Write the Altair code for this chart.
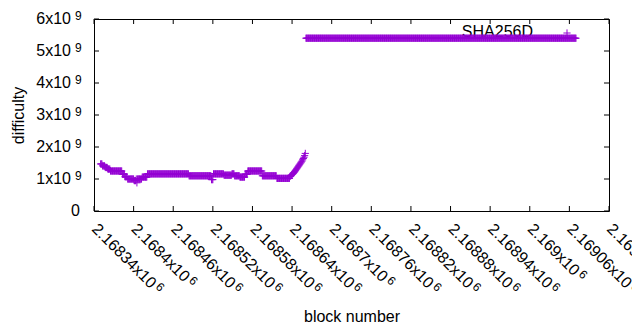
import json
import altair as alt
import pandas as pd

PURPLE = "#9400D3"
FONT = "Liberation Sans"

# ---- data -----------------------------------------------------------------
# flat runs of difficulty: first block, last block, difficulty (x1e9)
run_first = [2168350, 2168353, 2168357, 2168361, 2168365, 2168383, 2168387,
             2168391, 2168401, 2168404, 2168405, 2168406, 2168413, 2168421,
             2168484, 2168518, 2168521, 2168537, 2168549, 2168553, 2168561,
             2168569, 2168573, 2168595, 2168617, 2168661]
run_last = [2168352, 2168356, 2168360, 2168364, 2168382, 2168386, 2168390,
            2168400, 2168403, 2168404, 2168405, 2168412, 2168420, 2168483,
            2168517, 2168520, 2168536, 2168548, 2168552, 2168560, 2168568,
            2168572, 2168594, 2168616, 2168636, 2169070]
run_value = [1.47, 1.41, 1.36, 1.31, 1.25, 1.15, 1.07,
             1.00, 0.95, 1.00, 0.88, 1.00, 1.06, 1.16,
             1.10, 0.98, 1.16, 1.12, 1.16, 1.10, 1.06,
             1.15, 1.25, 1.10, 1.02, 5.40]

# the rise just before the jump
ramp_block = [2168637, 2168638, 2168639, 2168640, 2168641, 2168642, 2168643,
              2168644, 2168645, 2168646, 2168647, 2168648, 2168649, 2168650,
              2168651, 2168652, 2168653, 2168654, 2168655, 2168656, 2168657,
              2168658, 2168659, 2168660]
ramp_value = [1.08, 1.10, 1.12, 1.14, 1.16, 1.18, 1.20, 1.23, 1.26, 1.29,
              1.32, 1.35, 1.38, 1.41, 1.44, 1.47, 1.50, 1.53, 1.56, 1.60,
              1.64, 1.68, 1.73, 1.80]

x_ticks = [2168340, 2168400, 2168460, 2168520, 2168580, 2168640, 2168700,
           2168760, 2168820, 2168880, 2168940, 2169000, 2169060, 2169120]
x_mant = ["2.16834", "2.1684", "2.16846", "2.16852", "2.16858", "2.16864",
          "2.1687", "2.16876", "2.16882", "2.16888", "2.16894", "2.169",
          "2.16906", "2.16912"]
x_exp = "6"
y_ticks = [0, 1000000000, 2000000000, 3000000000, 4000000000, 5000000000,
           6000000000]
y_mant = ["0", "1x10", "2x10", "3x10", "4x10", "5x10", "6x10"]
y_exp = ["", "9", "9", "9", "9", "9", "9"]

series_name = "SHA256D"

# ---- build tables -----------------------------------------------------------
blocks, diffs = [], []
for a, b, v in zip(run_first, run_last, run_value):
    for blk in range(a, b + 1):
        blocks.append(blk)
        diffs.append(v * 1e9)
for blk, v in zip(ramp_block, ramp_value):
    blocks.append(blk)
    diffs.append(v * 1e9)
df = pd.DataFrame({"block": blocks, "difficulty": diffs})

W, H = 515, 192
TICK = 5
FS = 16       # main font size
FS_SUP = 12   # superscript font size

xscale = alt.Scale(domain=[x_ticks[0], x_ticks[-1]], nice=False, zero=False)
yscale = alt.Scale(domain=[y_ticks[0], y_ticks[-1]], nice=False, zero=False)

x_main = [m + "x10" for m in x_mant]
x_expr = "%s[indexof(%s, datum.value)]" % (json.dumps(x_main), json.dumps(x_ticks))

XPAD = 15
x_axis = alt.Axis(values=x_ticks, labelExpr=x_expr, labelAngle=45,
                  labelAlign="left", labelBaseline="middle",
                  labelPadding=XPAD, labelOverlap=False, labelFlush=False,
                  labelBound=False, titleX=W / 2, titleY=105,
                  titleBaseline="middle", titleAlign="center")
y_axis = alt.Axis(values=y_ticks, labels=False,
                  titleX=-76, titleY=H / 2, titleAngle=-90,
                  titleBaseline="middle", titleAlign="center")


def xenc(field):
    return alt.X(field + ":Q", scale=xscale, title="block number", axis=x_axis)


def yenc(field):
    return alt.Y(field + ":Q", scale=yscale, title="difficulty", axis=y_axis)


cross = "M-1,0H1M0,-1V1"
MSIZE = 52

points = alt.Chart(df).mark_point(
    shape=cross, filled=False, size=MSIZE, strokeWidth=1, color=PURPLE, opacity=1
).encode(x=xenc("block"), y=yenc("difficulty"))

xt = pd.DataFrame({"t": x_ticks, "mant": x_mant, "exp": [x_exp] * len(x_ticks)})
yt = pd.DataFrame({"t": y_ticks, "mant": y_mant, "exp": y_exp})
rule_style = dict(color="black", strokeWidth=1)
xb = alt.Chart(xt).mark_rule(**rule_style).encode(
    x=xenc("t"), y=alt.value(H), y2=alt.value(H - TICK))
xtop = alt.Chart(xt).mark_rule(**rule_style).encode(
    x=xenc("t"), y=alt.value(0), y2=alt.value(TICK))
yl = alt.Chart(yt).mark_rule(**rule_style).encode(
    y=yenc("t"), x=alt.value(0), x2=alt.value(TICK))
yr = alt.Chart(yt).mark_rule(**rule_style).encode(
    y=yenc("t"), x=alt.value(W), x2=alt.value(W - TICK))

# y tick labels: mantissa + superscript exponent
y_lab0 = alt.Chart(yt).transform_filter("datum.exp == ''").mark_text(
    align="right", baseline="middle", font=FONT, fontSize=FS, color="black"
).encode(y=yenc("t"), text="mant:N", x=alt.value(-14))
y_lab = alt.Chart(yt).transform_filter("datum.exp != ''").mark_text(
    align="right", baseline="middle", font=FONT, fontSize=FS, color="black"
).encode(y=yenc("t"), text="mant:N", x=alt.value(-23))
y_sup = alt.Chart(yt).transform_filter("datum.exp != ''").mark_text(
    align="left", baseline="alphabetic", font=FONT, fontSize=FS_SUP, color="black",
    dy=0.5
).encode(y=yenc("t"), text="exp:N", x=alt.value(-19))

# x superscripts, offset along the rotated label by the mantissa's width
ADV = {"0": 0.556, "1": 0.556, "2": 0.556, "3": 0.556, "4": 0.556, "5": 0.556,
       "6": 0.556, "7": 0.556, "8": 0.556, "9": 0.556, ".": 0.278, "x": 0.5}
x_sup_layers = []
for n in sorted(set(len(m) for m in x_mant)):
    sample = [m for m in x_mant if len(m) == n][0] + "x10"
    w = sum(ADV[c] for c in sample) * FS
    x_sup_layers.append(
        alt.Chart(xt).transform_filter("length(datum.mant) == %d" % n).mark_text(
            align="left", baseline="alphabetic", font=FONT, fontSize=FS_SUP,
            color="black", angle=45, dx=w + 3, dy=0.5
        ).encode(x=xenc("t"), y=alt.value(H + XPAD), text="exp:N")
    )

leg_df = pd.DataFrame({"name": [series_name]})
leg_text = alt.Chart(leg_df).mark_text(
    align="right", baseline="middle", font=FONT, fontSize=FS, color="black"
).encode(text="name:N", x=alt.value(439), y=alt.value(13))
leg_pt = alt.Chart(leg_df).mark_point(
    shape=cross, filled=False, size=MSIZE, strokeWidth=1, color=PURPLE, opacity=1
).encode(x=alt.value(473), y=alt.value(14))

chart = alt.layer(leg_text, points, leg_pt, xb, xtop, yl, yr,
                  y_lab0, y_lab, y_sup, *x_sup_layers).properties(
    width=W, height=H,
    autosize=alt.AutoSizeParams(type="none"),
    padding={"left": 86, "top": 11, "right": 23, "bottom": 119},
).configure_view(stroke="black", strokeWidth=1).configure_axis(
    grid=False, ticks=False, domain=False,
    labelFont=FONT, labelFontSize=FS, labelColor="black",
    titleFont=FONT, titleFontSize=FS, titleFontWeight="normal", titleColor="black",
)

chart.save("out.html", embed_options={"renderer": "svg", "actions": False})
